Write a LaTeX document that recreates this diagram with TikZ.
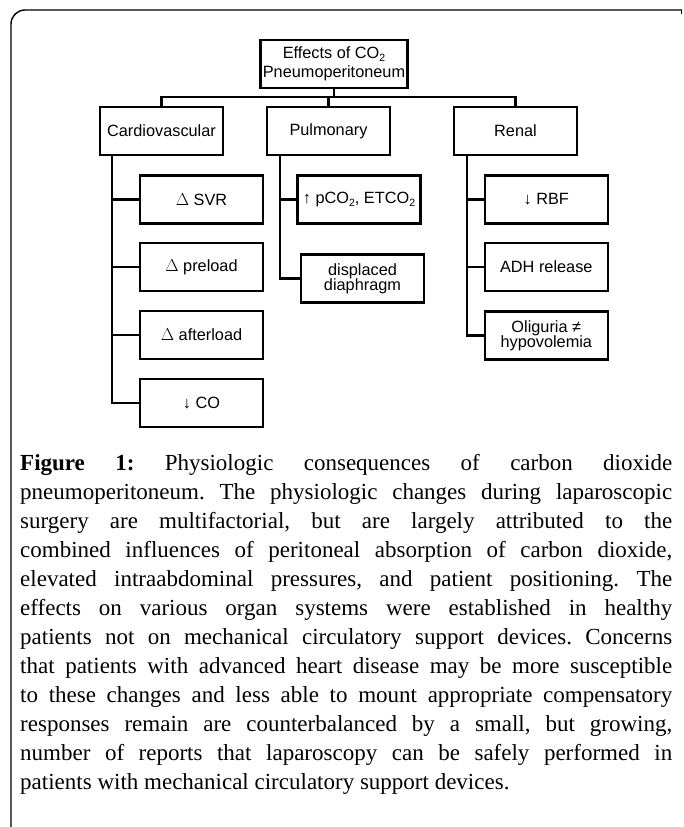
\documentclass[tikz,border=0pt]{standalone}
\usepackage{fontspec}
\setmainfont{Liberation Serif}
\newfontfamily\boxfont{Liberation Sans}
\newcommand{\subtwo}{\raisebox{-0.3ex}{\fontsize{10.5}{10.5}\selectfont 2}}
\begin{document}
\begin{tikzpicture}[x=1pt,y=-1pt,
  bx/.style={draw, line width=2.2pt, inner sep=0pt, align=center,
    minimum width=123pt, minimum height=48pt,
    font=\boxfont\fontsize{16.3}{17}\selectfont},
  conn/.style={line width=2.2pt},
  frame/.style={line width=1.4pt}]
\useasboundingbox (0,0) rectangle (683,827);
% outer frame
\draw[frame, rounded corners=14pt] (11,828) -- (11,10) -- (682,10);
\draw[frame] (681.3,10) -- (681.3,14);
% top
\node[bx, minimum width=147pt, minimum height=48pt] (top) at (334,64)
  {Effects of CO\subtwo\\[1.5pt]Pneumoperitoneum};
\node[bx] (cv) at (161.5,131) {Cardiovascular};
\node[bx] (pul) at (328.5,131) {Pulmonary};
\node[bx] (ren) at (515.5,131) {Renal};
% cardiovascular children
\node[bx] (svr) at (201.5,199.5) {$\Delta$ SVR};
\node[bx] (pre) at (201.5,267) {$\Delta$ preload};
\node[bx] (aft) at (201.5,335) {$\Delta$ afterload};
\node[bx] (co) at (201.5,403) {↓ CO};
% pulmonary children
\node[bx] (pco) at (359,199.5) {↑ pCO\subtwo, ETCO\subtwo};
\node[bx] (dia) at (362.5,278.5) {displaced\\[-2pt]diaphragm};
% renal children
\node[bx] (rbf) at (546.3,199.5) {↓ RBF};
\node[bx] (adh) at (546.3,267) {ADH release};
\node[bx] (oli) at (546.3,335.5) {Oliguria ≠\\[-2pt]hypovolemia};
% bus
\coordinate (bus) at (0,96.7);
\coordinate (cvx) at (112.3,0);
\coordinate (pux) at (280,0);
\coordinate (rex) at (466.7,0);
\draw[conn] (top.south) -- (top.south |- bus);
\draw[conn] (cv.north) -- (cv.north |- bus) -- (ren.north |- bus) -- (ren.north);
\draw[conn] (pul.north) -- (pul.north |- bus);
% branches
\draw[conn] (cvx |- cv.south) |- (co.west);
\draw[conn] (cvx |- svr) -- (svr.west);
\draw[conn] (cvx |- pre) -- (pre.west);
\draw[conn] (cvx |- aft) -- (aft.west);
\draw[conn] (pux |- pul.south) |- (dia.west);
\draw[conn] (pux |- pco) -- (pco.west);
\draw[conn] (rex |- ren.south) |- (oli.west);
\draw[conn] (rex |- rbf) -- (rbf.west);
\draw[conn] (rex |- adh) -- (adh.west);
% caption
\node[anchor=north west, inner sep=0pt, text width=652pt, align=justify,
  font=\fontsize{23}{29}\selectfont] (cap) at (20,449.7)
  {\frenchspacing\tolerance=10000\hbadness=10000\strut\textbf{Figure 1:} Physiologic consequences of carbon dioxide\linebreak
  pneumoperitoneum. The physiologic changes during laparoscopic\linebreak
  surgery are multifactorial, but are largely attributed to the\linebreak
  combined influences of peritoneal absorption of carbon dioxide,\linebreak
  elevated intraabdominal pressures, and patient positioning. The\linebreak
  effects on various organ systems were established in healthy\linebreak
  patients not on mechanical circulatory support devices. Concerns\linebreak
  that patients with advanced heart disease may be more susceptible\linebreak
  to these changes and less able to mount appropriate compensatory\linebreak
  responses remain are counterbalanced by a small, but growing,\linebreak
  number of reports that laparoscopy can be safely performed in\linebreak
  patients with mechanical circulatory support devices.};
\end{tikzpicture}
\end{document}
